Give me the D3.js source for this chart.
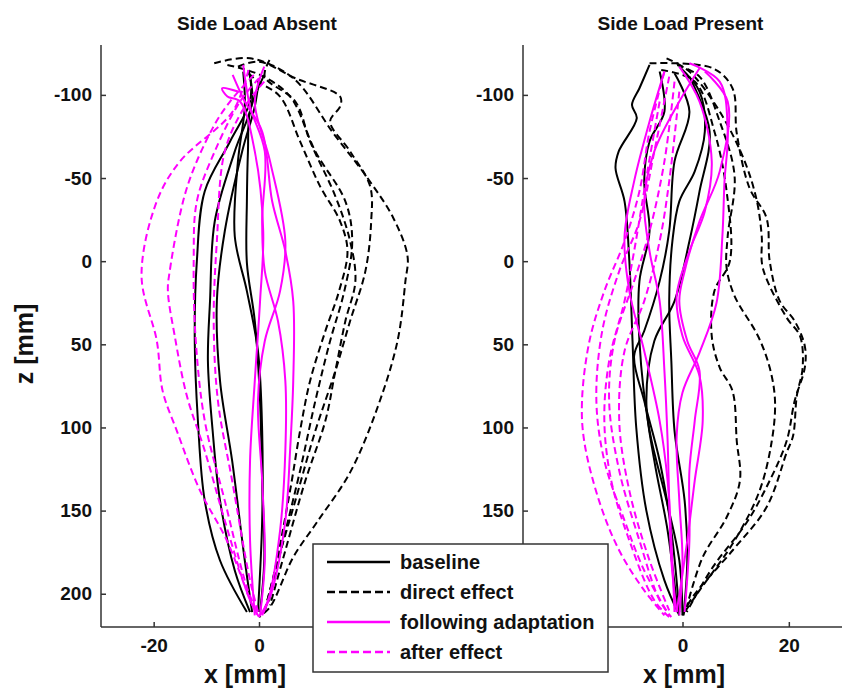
<!DOCTYPE html>
<meta charset="utf-8">
<style>
body { margin: 0; background: #fff; }
text { font-family: "Liberation Sans", Arial, sans-serif; font-weight: bold; fill: #111; }
.traj { fill: none; stroke-width: 2px; }
.axis-line { stroke: #333; stroke-width: 1.5px; }
</style>
<body>
<script src="https://d3js.org/d3.v7.min.js"></script>
<script>

// trajectories as [x mm, z mm] pairs
var absentBaseline = [
  [[-1.7,-112],[-1.7,-96],[-5.5,-72],[-10.3,-42],[-11.8,0],[-12.2,48],[-11.6,96],[-10.3,144],[-7.4,180],[-2.3,211]],
  [[-2,-115],[-1.3,-96],[-4.6,-66],[-8.4,-24],[-9.3,24],[-9.7,60],[-8.8,102],[-7.4,144],[-4.6,186],[-1.7,211]],
  [[0,-110],[-0.8,-93],[-3.2,-66],[-6.5,-18],[-8,24],[-7.4,72],[-5.1,120],[-2.7,180],[-1.3,211]],
  [[1,-112],[-1.7,-90],[-2.1,-66],[-2.3,-36],[-2.3,1],[-0.8,36],[0.2,84],[0.6,132],[1,180],[0.2,211]],
  [[-3,-114],[-2.7,-93],[-4,-60],[-4.6,-15],[-2.3,18],[-0.2,54],[0.6,102],[0.6,156],[-0.2,211]]
];
var absentDirect = [
  [[-8.5,-119],[-1.7,-122],[6.5,-110],[14.1,-77],[20.6,-50],[25.5,-26],[28.2,-3],[27.8,12],[26.3,48],[22.5,88],[17.3,127],[11,157],[6.5,178],[2.1,208],[0,214]],
  [[-4,-117],[0,-120],[6.9,-110],[15.4,-99],[15.4,-93],[13.5,-84],[17.3,-66],[21.1,-45],[21.3,-24],[20.2,6],[17.3,36],[14.5,66],[10.7,102],[6.9,144],[3.6,180],[1.1,210]],
  [[-6,-118],[0.2,-112],[5.9,-99],[10.7,-66],[16.4,-36],[17.7,-12],[16.2,18],[13.5,48],[10.7,84],[7.8,126],[4.6,168],[1.7,207]],
  [[2,-121],[1.1,-111],[6.9,-96],[9.7,-72],[14.5,-39],[17.3,-12],[18.3,12],[16.4,36],[14.5,66],[12.6,96],[8.8,132],[5,174],[2.1,207]],
  [[-2,-113],[-0.2,-108],[4,-99],[7.8,-72],[11.6,-45],[15.4,-24],[16.8,-6],[15.2,18],[12.6,42],[9.7,72],[7.8,102],[5.9,138],[3,186],[1.1,210]]
];
var absentFollowing = [
  [[-5,-112],[-2.7,-96],[0.6,-78],[2.5,-36],[5,-6],[6.5,24],[6.5,72],[5.9,114],[5,156],[2.5,198],[0.6,213]],
  [[-3,-118],[-1.7,-93],[1.1,-66],[0.6,-24],[1.1,6],[3.6,36],[5,72],[5,114],[4,162],[1.7,204],[0,214]],
  [[1,-117],[-0.8,-96],[2.1,-60],[5,-12],[4,18],[1.1,48],[-0.2,84],[0.6,132],[1.1,180],[0.2,213]],
  [[-4,-102],[-7,-104],[-6,-99],[-3.6,-96],[-0.8,-66],[0.8,-18],[0.2,24],[-0.8,72],[-1.7,120],[-1.7,168],[-0.8,213]]
];
var absentAfter = [
  [[-2,-115],[-5,-90],[-15,-60],[-19.4,-36],[-22.3,9],[-19.4,48],[-18.3,78],[-15.6,102],[-11.2,138],[-6.1,168],[-1.1,208],[0,214]],
  [[-1,-112],[-5.5,-96],[-8.8,-80],[-13.7,-44],[-17,7],[-17.3,18],[-16,45],[-13.7,81],[-10.3,114],[-6.5,156],[-1.7,204],[0,214]],
  [[0,-110],[-3.6,-96],[-8.4,-66],[-11.8,-36],[-12.4,0],[-12,48],[-10.3,96],[-6.5,144],[-2.1,198],[0,213]],
  [[1,-108],[-2.7,-93],[-6.5,-66],[-8,-12],[-8.6,36],[-7.8,84],[-5.1,132],[-1.7,192],[0,213]]
];

var presentBaseline = [
  [[-6.2,-118],[-8.1,-104],[-9.5,-94],[-8.6,-86],[-12,-66],[-12.6,-56],[-10.9,-36],[-10,0],[-9.4,48],[-8.7,100],[-6.8,150],[-3.4,192],[-0.6,213]],
  [[-4.3,-114],[-3.4,-90],[-6.2,-72],[-7.2,-48],[-6.2,-18],[-8.1,12],[-8.1,48],[-6.2,102],[-3,144],[-0.6,180],[0,213]],
  [[-1.5,-113],[1.3,-90],[-1.5,-60],[-2.5,-18],[-4.3,12],[-7.2,42],[-9.1,57],[-7.2,84],[-4.3,120],[-2.1,162],[-0.6,211]],
  [[-0.6,-117],[3.2,-102],[4.2,-78],[2.3,-54],[-0.6,-36],[-1.9,-12],[-2.5,24],[-2.1,60],[-1.5,102],[0.4,144],[0.9,180],[0.2,213]],
  [[1.3,-111],[5.1,-78],[3.2,-42],[1.3,-12],[-1.5,24],[-5.3,48],[-6.8,84],[-5.3,120],[-2.8,162],[-0.9,211]]
];
var presentDirect = [
  [[-6.2,-119],[5.7,-116],[9.4,-104],[10.2,-77],[12.6,-44],[15.8,-26],[16.4,0],[18.3,24],[21.1,36],[23,51],[23,64],[21.1,84],[19.6,108],[16.4,132],[12.1,157],[5.7,184],[0.8,211]],
  [[-3,-122],[1.3,-114],[7,-90],[11.7,-60],[14,-36],[14.9,-15],[15.1,4],[19.6,34],[22.1,45],[22.6,64],[21.5,81],[20.8,105],[19.6,115],[15.8,148],[9.4,174],[1.9,202],[0,213]],
  [[-1,-118],[3.2,-111],[7,-84],[9.8,-51],[8.5,-15],[8.3,4],[9.8,21],[14.2,45],[16.4,64],[17.4,84],[16.8,108],[14.5,138],[9.8,168],[3.2,198],[0.4,211]],
  [[-4,-115],[2.3,-108],[6,-78],[8.3,-42],[8.9,0],[6,18],[5.5,45],[7,64],[9.4,78],[10.2,108],[10.8,132],[8.3,154],[3.8,178],[0.8,208]]
];
var presentFollowing = [
  [[1.3,-119],[7,-108],[8.5,-78],[7.9,-48],[7.5,-15],[6.4,25],[3.2,55],[0,79],[-1.1,105],[-0.6,144],[0,180],[-0.6,213]],
  [[-0.6,-117],[3.2,-96],[5.5,-60],[4.2,-30],[1.3,-6],[-1.1,21],[0,45],[3.2,69],[3.8,96],[2.3,132],[0.9,168],[-1.1,211]],
  [[-3.4,-114],[-6.2,-84],[-9.1,-48],[-10.9,-15],[-10,18],[-7.2,54],[-4.3,96],[-2.8,132],[-2.1,168],[-1.5,211]],
  [[3.2,-116],[-0.6,-96],[-5.3,-66],[-7.2,-36],[-6.2,-6],[-4.3,24],[-3.4,66],[-2.8,108],[-2.5,144],[-2.1,180],[-1.1,211]],
  [[4.2,-114],[8.5,-96],[7,-54],[3.2,-24],[0.4,6],[-0.6,24],[0.9,48],[3.2,66],[2.3,96],[1.3,126],[1.3,168],[0.4,211]]
];
var presentAfter = [
  [[-3.4,-114],[-6.2,-78],[-8.1,-42],[-10.9,-12],[-14.7,18],[-17.5,48],[-18.9,84],[-18.5,108],[-15.7,144],[-11.9,174],[-7.2,198],[-3.4,213]],
  [[-2.5,-111],[-5.3,-66],[-8.1,-24],[-11.9,6],[-15.1,42],[-16.2,84],[-14.7,120],[-10.9,156],[-7.2,186],[-2.5,213]],
  [[-1.5,-108],[-3.4,-60],[-6.2,-18],[-9.1,12],[-12.8,48],[-13.8,84],[-11.9,126],[-8.1,168],[-4.3,204],[-2.1,214]],
  [[-0.6,-102],[-2.5,-48],[-4.3,-12],[-7.2,24],[-10.9,54],[-11.9,96],[-10,138],[-6.2,180],[-2.5,210]],
  [[-4.3,-96],[-6.6,-54],[-9.1,-6],[-10.9,24],[-13.8,60],[-14.7,96],[-13.4,132],[-10,168],[-5.3,204],[-2.5,214]]
];

var zTicksAbsent = [-100, -50, 0, 50, 100, 150, 200];
var zTicksPresent = [-100, -50, 0, 50, 100, 150];   // the 200 tick sits under the legend
var xTicksAbsent = [-20, 0];   // the 20 tick sits under the legend
var xTicksPresent = [0, 20];   // the -20 tick sits under the legend
var legendLabels = ["baseline", "direct effect", "following adaptation", "after effect"];
var panelTitles = ["Side Load Absent", "Side Load Present"];

var styles = [
  {color: "#000", dash: null},
  {color: "#000", dash: "7,4"},
  {color: "#ff00ff", dash: null},
  {color: "#ff00ff", dash: "7,4"}
];

var svg = d3.select("body").append("svg")
    .attr("width", 844)
    .attr("height", 689);

var y = d3.scaleLinear().domain([-130, 220]).range([45, 627]);

var panels = [
  {title: panelTitles[0], x: d3.scaleLinear().domain([-30, 30]).range([101, 417]),
   xticks: xTicksAbsent, zticks: zTicksAbsent,
   sets: [absentBaseline, absentDirect, absentFollowing, absentAfter], xlab: 245},
  {title: panelTitles[1], x: d3.scaleLinear().domain([-30, 30]).range([523, 842]),
   xticks: xTicksPresent, zticks: zTicksPresent,
   sets: [presentBaseline, presentDirect, presentFollowing, presentAfter], xlab: 684}
];

function fmt(d) { return d < 0 ? "-" + Math.abs(d) : d; }

panels.forEach(function(p) {
  var g = svg.append("g");
  var line = d3.line()
      .x(function(d) { return p.x(d[0]); })
      .y(function(d) { return y(d[1]); })
      .curve(d3.curveCatmullRom.alpha(0.5));

  p.sets.forEach(function(set, i) {
    g.selectAll(null)
        .data(set)
      .enter().append("path")
        .attr("class", "traj")
        .attr("d", line)
        .attr("stroke", styles[i].color)
        .attr("stroke-dasharray", styles[i].dash);
  });

  // y axis (ticks inward)
  var yAxis = g.append("g")
      .attr("transform", "translate(" + p.x.range()[0] + ",0)")
      .call(d3.axisRight(y).tickValues(p.zticks).tickSize(5));
  yAxis.select(".domain").remove();
  yAxis.selectAll("line").attr("stroke", "#333").attr("stroke-width", 1.5);
  yAxis.selectAll("text")
      .attr("x", -9).attr("text-anchor", "end")
      .style("font-size", "19px").attr("fill", "#111")
      .text(fmt);

  // x axis (ticks inward)
  var xAxis = g.append("g")
      .attr("transform", "translate(0," + y.range()[1] + ")")
      .call(d3.axisTop(p.x).tickValues(p.xticks).tickSize(5));
  xAxis.select(".domain").remove();
  xAxis.selectAll("line").attr("stroke", "#333").attr("stroke-width", 1.5);
  xAxis.selectAll("text")
      .attr("y", 25)
      .style("font-size", "19px").attr("fill", "#111")
      .text(fmt);

  g.append("line").attr("class", "axis-line")
      .attr("x1", p.x.range()[0]).attr("x2", p.x.range()[0])
      .attr("y1", y.range()[0]).attr("y2", y.range()[1]);
  g.append("line").attr("class", "axis-line")
      .attr("x1", p.x.range()[0]).attr("x2", p.x.range()[1])
      .attr("y1", y.range()[1]).attr("y2", y.range()[1]);

  g.append("text")
      .attr("x", (p.x.range()[0] + p.x.range()[1]) / 2 - 2)
      .attr("y", 30)
      .attr("text-anchor", "middle")
      .style("font-size", "19px")
      .text(p.title);

  g.append("text")
      .attr("x", p.xlab)
      .attr("y", 683)
      .attr("text-anchor", "middle")
      .style("font-size", "25px")
      .text("x [mm]");
});

svg.append("text")
    .attr("transform", "translate(33,344) rotate(-90)")
    .attr("text-anchor", "middle")
    .style("font-size", "25px")
    .text("z [mm]");

// legend
var legend = svg.append("g").attr("transform", "translate(313,544)");
legend.append("rect")
    .attr("width", 295).attr("height", 128)
    .attr("fill", "#fff").attr("stroke", "#333").attr("stroke-width", 1.5);
legendLabels.forEach(function(label, i) {
  var ly = 18 + i * 30;
  legend.append("line")
      .attr("x1", 14).attr("x2", 77)
      .attr("y1", ly).attr("y2", ly)
      .attr("stroke", styles[i].color)
      .attr("stroke-width", 2.5)
      .attr("stroke-dasharray", styles[i].dash ? "8,4" : null);
  legend.append("text")
      .attr("x", 87).attr("y", ly + 7)
      .style("font-size", "20px")
      .text(label);
});

</script>
</body>
